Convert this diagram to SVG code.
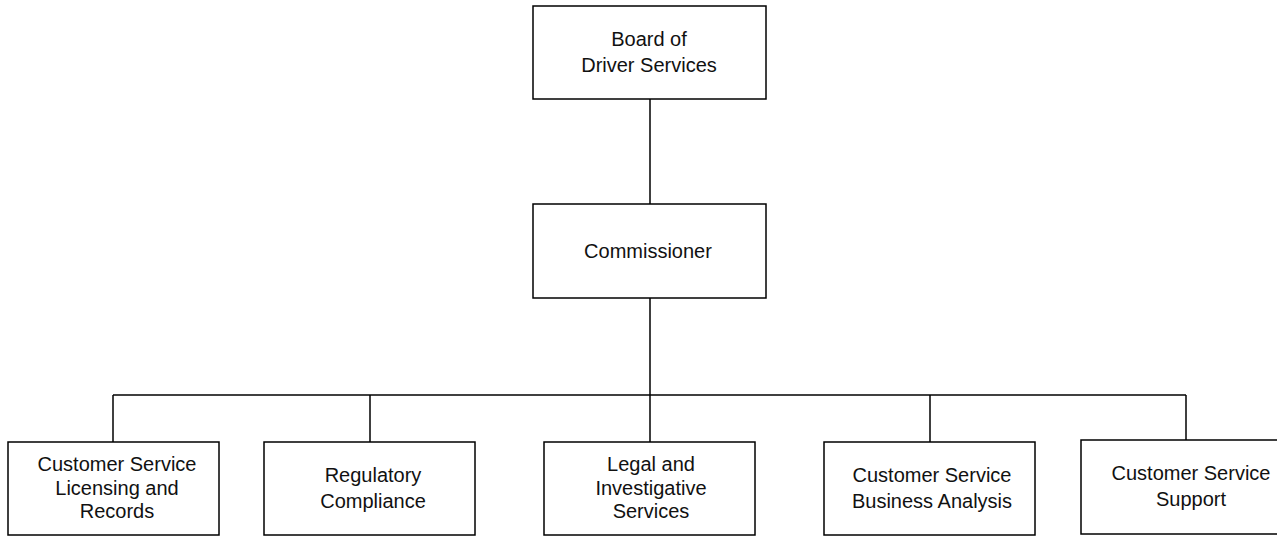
<svg xmlns="http://www.w3.org/2000/svg" width="1277" height="536" viewBox="0 0 1277 536">
<style>
.box{fill:#fff;stroke:#000;stroke-width:1.5}
.ln{stroke:#000;stroke-width:1.5;fill:none}
text{font-family:"Liberation Sans",Arial,sans-serif;font-size:20px;fill:#111;text-anchor:middle}
</style>
<rect width="1277" height="536" fill="#fff"/>
<g id="connectors">
<line class="ln" x1="650" y1="99" x2="650" y2="204"/>
<line class="ln" x1="650" y1="298" x2="650" y2="442"/>
<line class="ln" x1="113" y1="395" x2="1186" y2="395"/>
<line class="ln" x1="113" y1="395" x2="113" y2="442"/>
<line class="ln" x1="370" y1="395" x2="370" y2="442"/>
<line class="ln" x1="930" y1="395" x2="930" y2="442"/>
<line class="ln" x1="1186" y1="395" x2="1186" y2="440"/>
</g>
<g id="board">
<rect class="box" x="533" y="6" width="233" height="93"/>
<text x="649" y="46">Board of</text>
<text x="649" y="72">Driver Services</text>
</g>
<g id="commissioner">
<rect class="box" x="533" y="204" width="233" height="94"/>
<text x="648" y="258">Commissioner</text>
</g>
<g id="licensing">
<rect class="box" x="8" y="442" width="211" height="93"/>
<text x="117" y="471">Customer Service</text>
<text x="117" y="495">Licensing and</text>
<text x="117" y="518">Records</text>
</g>
<g id="regulatory">
<rect class="box" x="264" y="442" width="211" height="93"/>
<text x="373" y="482">Regulatory</text>
<text x="373" y="508">Compliance</text>
</g>
<g id="legal">
<rect class="box" x="544" y="442" width="211" height="93"/>
<text x="651" y="471">Legal and</text>
<text x="651" y="495">Investigative</text>
<text x="651" y="518">Services</text>
</g>
<g id="business">
<rect class="box" x="824" y="442" width="211" height="93"/>
<text x="932" y="482">Customer Service</text>
<text x="932" y="508">Business Analysis</text>
</g>
<g id="support">
<rect class="box" x="1081" y="440" width="211" height="94"/>
<text x="1191" y="480">Customer Service</text>
<text x="1191" y="506">Support</text>
</g>
</svg>
